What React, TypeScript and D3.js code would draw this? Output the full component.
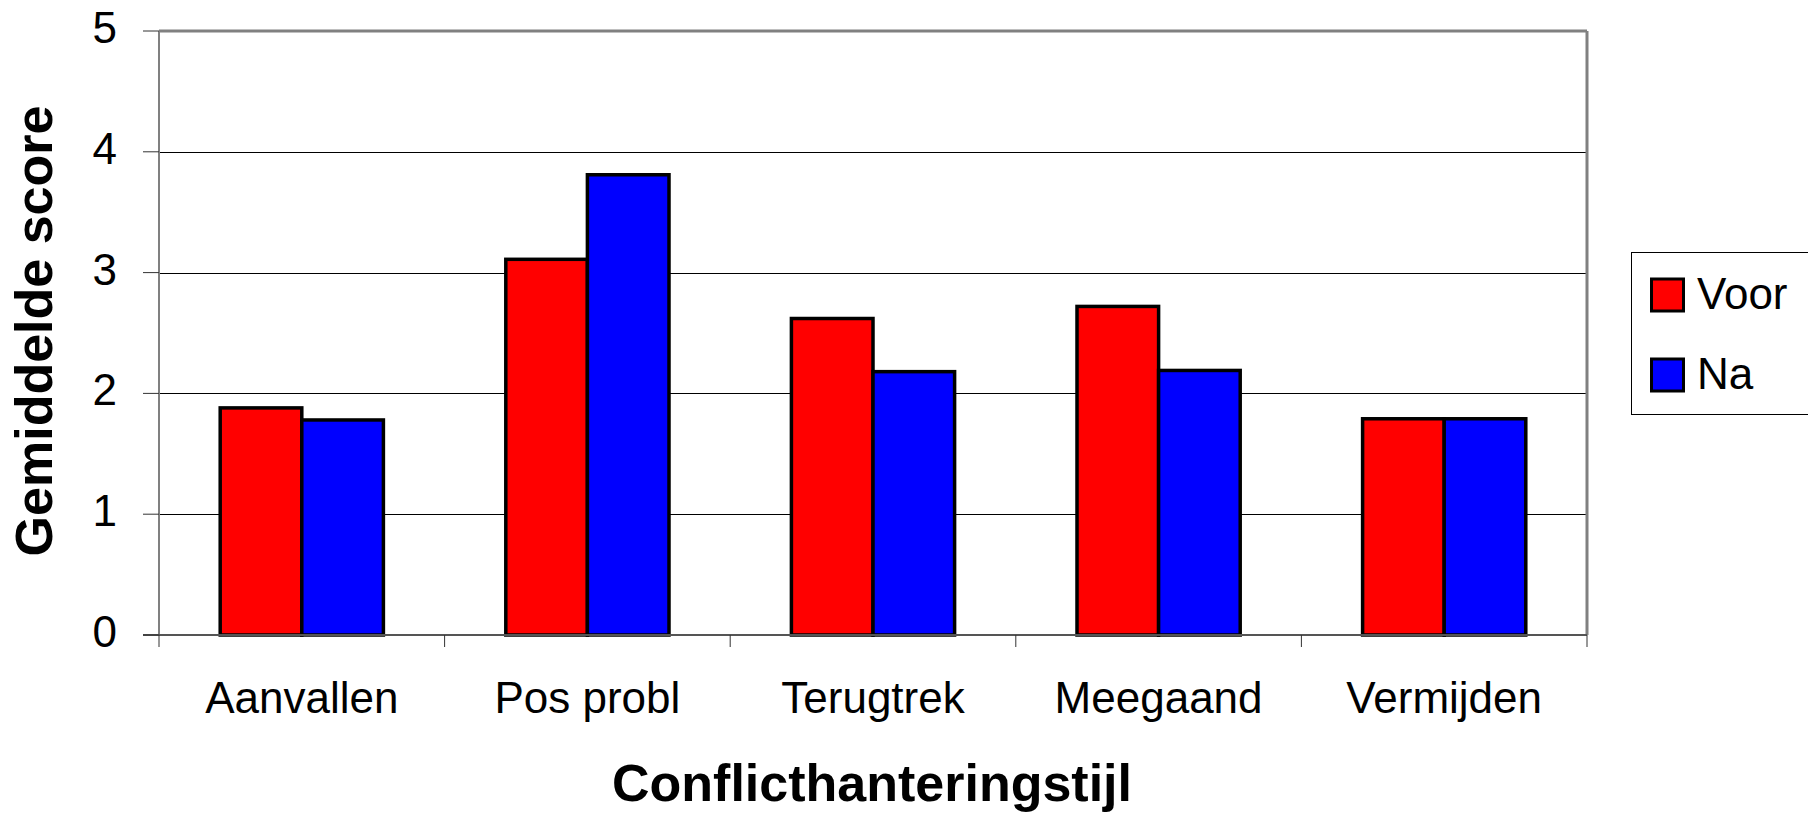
import React from 'react';
import * as d3 from 'd3';

const categories = ['Aanvallen', 'Pos probl', 'Terugtrek', 'Meegaand', 'Vermijden'];
const seriesNames = ['Voor', 'Na'];
const voor = [1.88, 3.11, 2.62, 2.72, 1.79];
const na = [1.78, 3.81, 2.18, 2.19, 1.79];
const seriesColors = ['#ff0000', '#0000ff'];
const yTicks = [0, 1, 2, 3, 4, 5];

const W = 1808;
const H = 813;
const margin = { top: 31, right: 221, bottom: 178, left: 159 };
const FONT = '"Liberation Sans", Arial, sans-serif';

const App = () => {
  const innerW = W - margin.left - margin.right;
  const innerH = H - margin.top - margin.bottom;

  const x = d3.scaleBand().domain(categories).range([0, innerW]).paddingInner(0).paddingOuter(0);
  // Excel style gap width 150% -> bar width = band / 3.5
  const barW = x.bandwidth() / 3.5;
  const inner = d3.scaleBand().domain(seriesNames).range([barW * 0.75, barW * 2.75]);
  const y = d3.scaleLinear().domain([0, 5]).range([innerH, 0]);

  const series = [voor, na];

  return (
    <svg width={W} height={H} style={{ position: 'absolute', left: 0, top: 0, background: '#fff' }}
      fontFamily={FONT}>
      <g transform={`translate(${margin.left},${margin.top})`}>
        {/* gridlines */}
        {yTicks.slice(1, -1).map(t => (
          <line key={t} x1={0} x2={innerW} y1={Math.round(y(t)) + 0.5} y2={Math.round(y(t)) + 0.5}
            stroke="#000" strokeWidth={1} />
        ))}
        {/* bars */}
        {categories.map((c, i) => (
          <g key={c} transform={`translate(${x(c)},0)`}>
            {series.map((s, j) => (
              <rect key={j} x={inner(seriesNames[j])} y={y(s[i])} width={inner.bandwidth()}
                height={y(0) - y(s[i])} fill={seriesColors[j]} stroke="#000" strokeWidth={3.5} />
            ))}
          </g>
        ))}
        {/* plot frame */}
        <line x1={0} x2={innerW} y1={0} y2={0} stroke="#808080" strokeWidth={3} />
        <line x1={innerW} x2={innerW} y1={0} y2={innerH} stroke="#808080" strokeWidth={3} />
        <line x1={0} x2={0} y1={0} y2={innerH} stroke="#808080" strokeWidth={2} />
        <line x1={-16} x2={innerW} y1={innerH} y2={innerH} stroke="#555" strokeWidth={2} />
        {/* y ticks */}
        {yTicks.map(t => (
          <g key={t} transform={`translate(0,${y(t)})`}>
            <line x1={-16} x2={0} stroke="#333" strokeWidth={1} />
            <text x={-42} y={12} textAnchor="end" fontSize={44} fill="#000">{t}</text>
          </g>
        ))}
        {/* x ticks at band edges */}
        {[...categories.map(c => x(c) as number), innerW].map((v, i) => (
          <line key={i} x1={v} x2={v} y1={innerH} y2={innerH + 12} stroke="#333" strokeWidth={1} />
        ))}
        {categories.map(c => (
          <text key={c} x={(x(c) as number) + x.bandwidth() / 2} y={innerH + 78} textAnchor="middle"
            fontSize={44} fill="#000">{c}</text>
        ))}
      </g>
      {/* axis titles */}
      <text x={W / 2 - 32} y={801} textAnchor="middle" fontSize={52} fontWeight="bold" fill="#000">
        Conflicthanteringstijl
      </text>
      <text transform={`translate(52,${331}) rotate(-90)`} textAnchor="middle" fontSize={52}
        fontWeight="bold" fill="#000">Gemiddelde score</text>
      {/* legend */}
      <g>
        <rect x={1631.5} y={252.5} width={200} height={162} fill="#fff" stroke="#000" strokeWidth={1} />
        {seriesNames.map((n, j) => (
          <g key={n} transform={`translate(1650,${279 + j * 80})`}>
            <rect x={1.5} y={0} width={32} height={32} fill={seriesColors[j]} stroke="#000" strokeWidth={3} />
            <text x={47} y={30} fontSize={44} fill="#000">{n}</text>
          </g>
        ))}
      </g>
    </svg>
  );
};

export default App;
